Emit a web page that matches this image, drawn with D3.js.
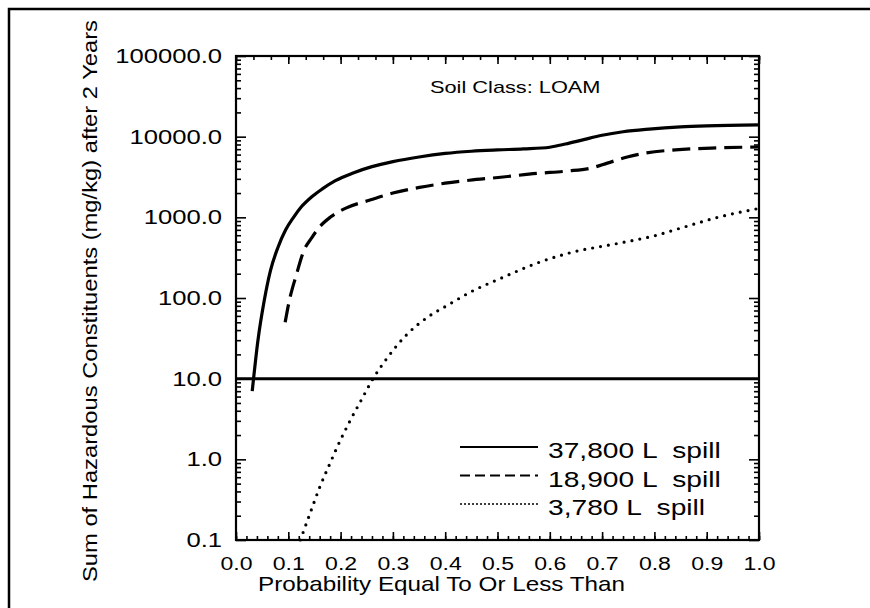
<!DOCTYPE html>
<html>
<head>
<meta charset="utf-8">
<script src="https://cdn.jsdelivr.net/npm/d3@7"></script>
<style>
  body { margin: 0; background: #fff; }
  text { font-family: "Liberation Sans", Arial, sans-serif; fill: #000; }
</style>
</head>
<body>
<div id="chart"></div>
<script>
// values (probability, mg/kg)
const spill37800 = [[0.031,7],[0.042,30],[0.054,93],[0.066,220],[0.08,420],[0.095,700],[0.11,1000],[0.125,1350],[0.145,1800],[0.165,2250],[0.19,2850],[0.224,3550],[0.26,4250],[0.3,4900],[0.35,5600],[0.4,6200],[0.45,6600],[0.5,6850],[0.55,7050],[0.6,7400],[0.63,8100],[0.665,9200],[0.7,10400],[0.74,11500],[0.79,12400],[0.85,13200],[0.9,13600],[1.0,14000]];
const spill18900 = [[0.094,50],[0.102,93],[0.115,190],[0.13,390],[0.145,560],[0.159,750],[0.18,1000],[0.21,1300],[0.255,1630],[0.3,2000],[0.351,2350],[0.4,2650],[0.446,2880],[0.506,3140],[0.575,3500],[0.634,3750],[0.68,4100],[0.71,4700],[0.748,5600],[0.785,6300],[0.84,6850],[0.92,7250],[1.0,7450]];
const spill3780 = [[0.123,0.1],[0.14,0.2],[0.16,0.45],[0.18,0.9],[0.193,1.4],[0.218,3.0],[0.24,5.5],[0.26,9.5],[0.289,18],[0.328,36],[0.37,60],[0.404,81],[0.45,120],[0.506,175],[0.575,270],[0.634,357],[0.73,475],[0.8,590],[0.856,755],[0.921,1000],[1.0,1290]];
const refLevel = 10;

const seriesNames = ['37,800 L  spill', '18,900 L  spill', '3,780 L  spill'];
const xTicks = [0,0.1,0.2,0.3,0.4,0.5,0.6,0.7,0.8,0.9,1.0];
const yTicks = [0.1,1,10,100,1000,10000,100000];

const W = 870, H = 608;
const margin = {top: 56, right: 111, bottom: 68, left: 236};
const width = W - margin.left - margin.right;
const height = H - margin.top - margin.bottom;

const svg = d3.select('#chart').append('svg')
    .attr('width', W)
    .attr('height', H);

// stretch text horizontally, the scanned lettering is wide
function stretch(sel, k) {
  sel.each(function() {
    const w = this.getComputedTextLength();
    this.setAttribute('textLength', w * k);
    this.setAttribute('lengthAdjust', 'spacingAndGlyphs');
  });
}

// outer box (only top and left edges visible)
svg.append('path')
    .attr('d', `M9,${H} V9 H${W}`)
    .attr('fill', 'none')
    .attr('stroke', '#000')
    .attr('stroke-width', 2.5);

const g = svg.append('g')
    .attr('transform', `translate(${margin.left},${margin.top})`);

const x = d3.scaleLinear().domain([0, 1]).range([0, width]);
const y = d3.scaleLog().domain([0.1, 100000]).range([height, 0]);

const xMinorBottom = d3.range(0, 51).map(i => i / 50);
const xMinorTop = d3.range(0, 31).map(i => i / 30);
const yMinor = [];
yTicks.slice(0, -1).forEach(d => { for (let k = 2; k < 10; k++) yMinor.push(d * k); });

function clean(sel) {
  sel.select('.domain').remove();
  sel.selectAll('line').attr('stroke', '#000').attr('stroke-width', 1.6);
}

// minor ticks
g.append('g').call(d3.axisLeft(y).tickValues(yMinor).tickSize(-5).tickFormat('')).call(clean);
g.append('g').attr('transform', `translate(${width},0)`)
    .call(d3.axisRight(y).tickValues(yMinor).tickSize(-5).tickFormat('')).call(clean);
g.append('g').attr('transform', `translate(0,${height})`)
    .call(d3.axisBottom(x).tickValues(xMinorBottom).tickSize(-4).tickFormat('')).call(clean);
g.append('g')
    .call(d3.axisTop(x).tickValues(xMinorTop).tickSize(-4).tickFormat('')).call(clean);

// major ticks + labels
const yAxis = g.append('g')
    .call(d3.axisLeft(y).tickValues(yTicks).tickSize(-10).tickPadding(14).tickFormat(d3.format('.1f')))
    .call(clean);
yAxis.selectAll('text').attr('font-size', 20);
stretch(yAxis.selectAll('text'), 1.28);

g.append('g').attr('transform', `translate(${width},0)`)
    .call(d3.axisRight(y).tickValues(yTicks).tickSize(-10).tickFormat('')).call(clean);

const xAxis = g.append('g').attr('transform', `translate(0,${height})`)
    .call(d3.axisBottom(x).tickValues(xTicks).tickSize(-8).tickPadding(17).tickFormat(d3.format('.1f')))
    .call(clean);
xAxis.selectAll('text').attr('font-size', 18);
stretch(xAxis.selectAll('text'), 1.28);

g.append('g')
    .call(d3.axisTop(x).tickValues(xTicks).tickSize(-8).tickFormat('')).call(clean);

// frame
g.append('rect')
    .attr('width', width)
    .attr('height', height)
    .attr('fill', 'none')
    .attr('stroke', '#000')
    .attr('stroke-width', 2.2);

// reference level
g.append('line')
    .attr('x1', x(0)).attr('x2', x(1))
    .attr('y1', y(refLevel)).attr('y2', y(refLevel))
    .attr('stroke', '#000')
    .attr('stroke-width', 3);

const line = d3.line()
    .x(d => x(d[0]))
    .y(d => y(d[1]))
    .curve(d3.curveMonotoneX);

const styles = [
  {data: spill37800, dash: null, w: 3.2, cap: 'butt'},
  {data: spill18900, dash: '18,8', w: 3.2, cap: 'butt'},
  {data: spill3780, dash: '0,8', w: 3.2, cap: 'round'}
];

styles.forEach(s => {
  g.append('path')
      .datum(s.data)
      .attr('d', line)
      .attr('fill', 'none')
      .attr('stroke', '#000')
      .attr('stroke-width', s.w)
      .attr('stroke-linecap', s.cap)
      .attr('stroke-dasharray', s.dash);
});

// soil class label
const soil = svg.append('text')
    .attr('x', 430)
    .attr('y', 93)
    .attr('font-size', 17)
    .text('Soil Class: LOAM');
stretch(soil, 1.28);

// legend
const legendDash = [null, '10,5', '2,2'];
const legend = svg.append('g')
    .selectAll('g')
    .data(seriesNames)
    .join('g')
      .attr('transform', (d, i) => `translate(460,${458 + i * 28.5})`);

legend.append('line')
    .attr('x1', 0).attr('x2', 78)
    .attr('y1', -11).attr('y2', -11)
    .attr('stroke', '#000')
    .attr('stroke-width', (d, i) => i == 2 ? 1.6 : 2.2)
    .attr('stroke-dasharray', (d, i) => legendDash[i]);

const legendText = legend.append('text')
    .attr('x', 88)
    .attr('font-size', 22)
    .attr('xml:space', 'preserve')
    .style('white-space', 'pre')
    .text(d => d);
stretch(legendText, 1.28);

// axis titles
svg.append('text')
    .attr('x', 258)
    .attr('y', 591)
    .attr('font-size', 21)
    .attr('textLength', 367)
    .attr('lengthAdjust', 'spacingAndGlyphs')
    .text('Probability Equal To Or Less Than');

svg.append('text')
    .attr('transform', 'translate(97,301) rotate(-90)')
    .attr('text-anchor', 'middle')
    .attr('font-size', 21)
    .attr('textLength', 562)
    .attr('lengthAdjust', 'spacingAndGlyphs')
    .text('Sum of Hazardous Constituents (mg/kg) after 2 Years');
</script>
</body>
</html>
